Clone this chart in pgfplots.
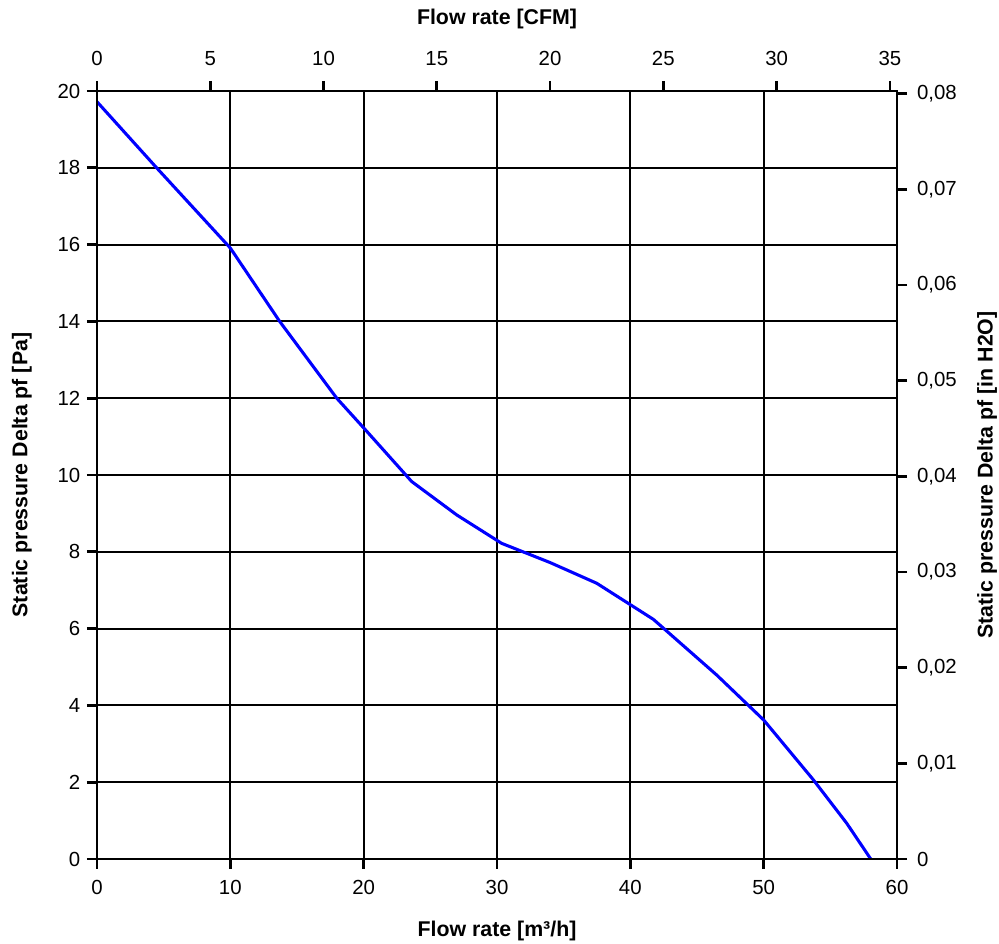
\documentclass[border=0pt]{standalone}
\usepackage{fontspec}
\setmainfont{Liberation Sans}
\usepackage{pgfplots}
\pgfplotsset{compat=1.18}

\begin{document}
\begin{tikzpicture}
\pgfplotsset{
  every axis/.append style={
    scale only axis, width=600pt, height=576pt,
    axis line style={line width=2pt, black},
    major tick style={line width=2pt, black},
    major tick length=7.5pt,
    tick align=outside,
    tick label style={font=\fontsize{15.3}{18}\selectfont},
    label style={font=\bfseries\fontsize{16}{19}\selectfont},
    /pgf/number format/assume math mode=true,
    scaled ticks=false,
  }
}
% main axis: m3/h and Pa
\begin{axis}[
  at={(0,0)}, anchor=south west,
  xmin=0, xmax=60, ymin=0, ymax=20,
  xtick={0,10,...,60}, ytick={0,2,...,20},
  xtick pos=bottom, ytick pos=left,
  xticklabel style={yshift=-5pt},
  yticklabel style={xshift=-1.5pt},
  grid=major, grid style={line width=1.5pt, black},
  xlabel={Flow rate [m³/h]},
  ylabel={Static pressure Delta pf [Pa]},
  xlabel style={yshift=-13pt},
  ylabel style={yshift=12.5pt},
]
\addplot[blue, line width=2.3pt] coordinates {
  (0,19.72) (4.47,18.0) (10,15.91) (13.7,14.0) (17.98,12.0)
  (20.2,11.15) (23.6,9.83) (26.98,8.96) (30.35,8.22) (33.98,7.72)
  (37.48,7.18) (41.73,6.24) (46.48,4.79) (50.0,3.62) (53.73,2.06)
  (56.23,0.93) (58.03,0)
};
\end{axis}
% secondary axis: CFM and in H2O
\begin{axis}[
  at={(0,0)}, anchor=south west,
  xmin=0, xmax=35.3147, ymin=0, ymax=0.080293,
  xtick={0,5,...,35},
  ytick={0,0.01,0.02,0.03,0.04,0.05,0.06,0.07,0.08},
  yticklabels={0,{0,01},{0,02},{0,03},{0,04},{0,05},{0,06},{0,07},{0,08}},
  xtick pos=top, xticklabel pos=top,
  ytick pos=right, yticklabel pos=right,
  xticklabel style={yshift=8pt},
  yticklabel style={xshift=4pt},
  xlabel={Flow rate [CFM]},
  ylabel={Static pressure Delta pf [in H2O]},
  xlabel style={yshift=10pt},
  ylabel style={yshift=-8.5pt},
]
\end{axis}
\pgfresetboundingbox
\path (-72.75pt,-63.75pt) rectangle (676.5pt,644.25pt);
\end{tikzpicture}
\end{document}
